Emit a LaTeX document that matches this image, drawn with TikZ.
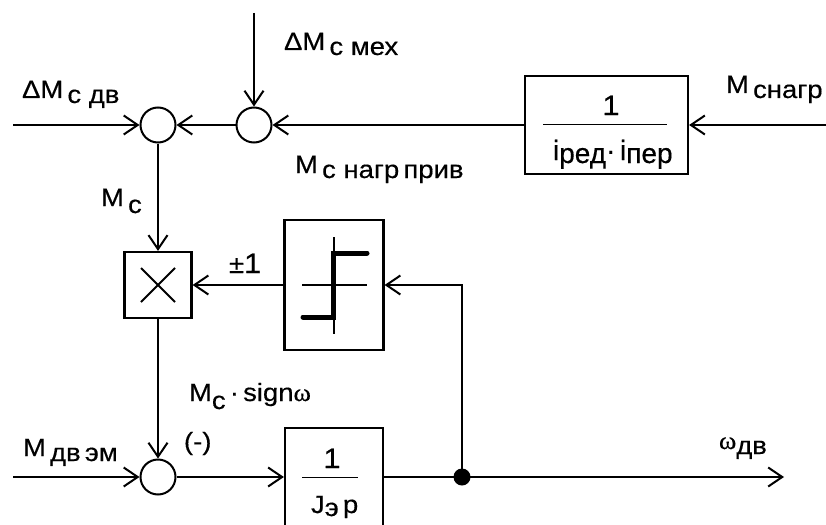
\documentclass[tikz,border=0pt]{standalone}
\usepackage{fontspec}
\setmainfont{Liberation Sans}[FakeStretch=1.1,FakeBold=0.4]
\newfontfamily\dfont{Liberation Sans}[FakeStretch=1.0,FakeBold=0.4]
\newfontfamily\grk{Liberation Serif}[FakeStretch=1.05,FakeBold=0.4]
\usetikzlibrary{arrows.meta,calc}
\newcommand\sbs[1]{\raisebox{-5pt}{#1}}
\newcommand\sbl[1]{\raisebox{-3pt}{#1}}
\begin{document}
\begin{tikzpicture}[x=1pt,y=-1pt,
  line width=2pt,
  arr/.style={-{Straight Barb[length=14pt,width=19pt,line width=2pt]}},
  sumc/.style={circle,draw,minimum size=35pt,inner sep=0pt,line width=2pt},
  blk/.style={draw,inner sep=0pt,line width=2.2pt},
  lbl/.style={anchor=base west,inner sep=0pt,font=\fontsize{25}{25}\selectfont},
  num/.style={inner sep=0pt,font=\fontsize{28}{28}\selectfont},
  fracline/.style={line width=1pt},
  thick relay/.style={line width=5pt,line cap=round},
]
\useasboundingbox (0,0) rectangle (826,524);
\clip (0,0) rectangle (826,524);

% summing junctions
\node[sumc] (s1) at (158,125) {};
\node[sumc] (s2) at (254,125) {};
\node[sumc] (s3) at (158,477) {};

% blocks
\node[blk,minimum width=163pt,minimum height=98pt] (b1) at (606.5,125) {};
\node[blk,minimum width=67pt,minimum height=66pt] (mul) at (158,285) {};
\node[blk,minimum width=99pt,minimum height=130pt] (rel) at (334,285) {};
\node[blk,minimum width=98pt,minimum height=110pt] (bj) at (334,483) {};

% fraction in b1
\node[num,anchor=base] (b1n) at (611,115) {1};
\draw[fracline] (543,124) -- (667,124);
\node[lbl,anchor=base west] (b1d) at (552,160) {\dfont\fontsize{28}{28}\selectfont i\sbl{ред}·\,i\sbl{пер}};

% fraction in bj
\node[num,anchor=base] (bjn) at (332,468) {1};
\draw[fracline] (302,477) -- (358,477);
\node[lbl] (bjd) at (310,513) {J\sbl{э}\,p};

% multiplier cross
\draw ($(mul.center)+(-17,-17)$) -- ($(mul.center)+(17,17)$);
\draw ($(mul.center)+(-17,17)$) -- ($(mul.center)+(17,-17)$);

% relay characteristic
\draw ($(rel.center)+(0,-48)$) -- ($(rel.center)+(0,49)$);
\draw ($(rel.center)+(-32,0)$) -- ($(rel.center)+(33,0)$);
\draw[thick relay,line join=miter] ($(rel.center)+(-31,32)$) -- ($(rel.center)+(-1,32)$) -- ($(rel.center)+(-1,-32)$) -- ($(rel.center)+(33,-32)$);

% coordinates for free ends
\coordinate (inL1) at (13,125);
\coordinate (inTop) at (254,13);
\coordinate (inR) at (826,125);
\coordinate (inL3) at (13,477);
\coordinate (outR) at (784,477);
\coordinate (jn) at (462,477);

% connectors
\draw[arr] (inL1) -- (s1.west);
\draw[arr] (inTop) -- (s2.north);
\draw[arr] (s2.west) -- (s1.east);
\draw[arr] (b1.west) -- (s2.east);
\draw[arr] (inR) -- (b1.east);
\draw[arr] (s1.south) -- (mul.north);
\draw[arr] (rel.west) -- (mul.east);
\draw[arr] (mul.south) -- (s3.north);
\draw[arr] (inL3) -- (s3.west);
\draw[arr] (s3.east) -- (s3 -| bj.west);
\draw[arr] (s3 -| bj.east) -- (outR);
\draw[arr] (jn) |- (rel.east);
\fill (jn) circle (8.5pt);

% labels
\node[lbl] (lA) at (21,98) {ΔM\,\sbs{с дв}};
\node[lbl] (lB) at (283,50) {ΔM\,\sbs{с мех}};
\node[lbl] (lC) at (725,93) {M\,\sbs{снагр}};
\node[lbl] (lD) at (294,173) {M\,\sbs{с нагр\,прив}};
\node[lbl] (lE) at (100,206) {M\,\raisebox{-7pt}{с}};
\node[lbl] (lF) at (228,273) {±\fontsize{28}{28}\selectfont 1};
\node[lbl] (lG) at (188,401) {M\raisebox{-8pt}{с}\,·\,sign{\grk ω}};
\node[lbl] (lH) at (183,450) {(-)};
\node[lbl] (lI) at (22,456) {M\,\sbs{дв\,эм}};
\node[lbl] (lJ) at (718,449) {{\grk ω}\sbs{дв}};
\end{tikzpicture}
\end{document}
